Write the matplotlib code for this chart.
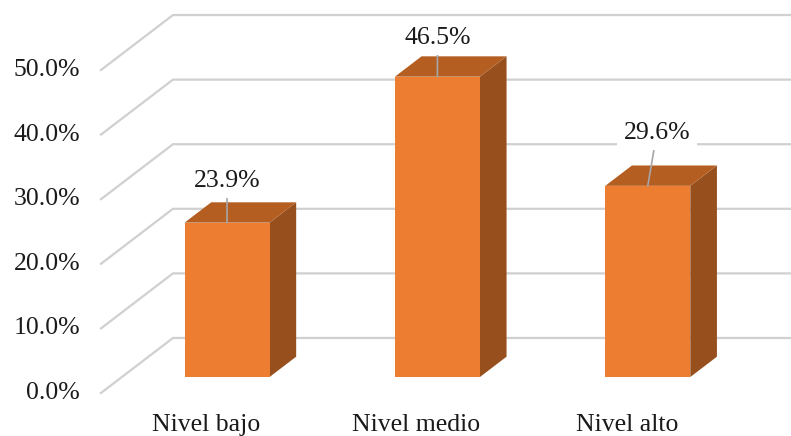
import matplotlib
matplotlib.use("Agg")
import matplotlib.pyplot as plt
import matplotlib.transforms as mtransforms
from matplotlib.patches import Polygon

categories = ["Nivel bajo", "Nivel medio", "Nivel alto"]
values = [23.9, 46.5, 29.6]
ticks = [0, 10, 20, 30, 40, 50]

# label offsets above each bar top (points)
label_offsets = [(0, 30), (0, 28), (6.5, 38)]

front_col = "#ED7D31"
top_col = "#B55E22"
side_col = "#97501D"
grid_col = "#D0D0D0"
text_col = "#1A1A1A"

plt.rcParams["font.family"] = ["Liberation Serif", "DejaVu Serif"]

fig = plt.figure(figsize=(7.91, 4.36), dpi=100)
ax = fig.add_axes([0, 0, 1, 1])
ax.set_xlim(-0.98, 2.78)
ax.set_ylim(-6.66, 60.84)
ax.axis("off")

# depth direction of the floor, in inches (full depth)
depth_x, depth_y = 0.72, 0.55


def shifted(d):
    return ax.transData + mtransforms.ScaledTranslation(depth_x * d, depth_y * d, fig.dpi_scale_trans)


back = shifted(1.0)
inv = ax.transData.inverted()


def to_data(tr, pts):
    return inv.transform(tr.transform(pts))


# wall/floor gridlines: diagonal from the front edge, then along the back wall
for t in ticks:
    bx, by = to_data(back, [(-0.5, t)])[0]
    ax.plot([-0.5, bx, 3.0], [t, by, by], color=grid_col, lw=1.6, zorder=1,
            solid_joinstyle="miter")
    ax.annotate(f"{t:.1f}%", xy=(-0.5, t), xytext=(-15, 0), textcoords="offset points",
                ha="right", va="center", fontsize=18.5, color=text_col)

d_front, d_back = 0.29, 0.66
w = 0.404
fr = shifted(d_front)
bk = shifted(d_back)

for i, (cat, v) in enumerate(zip(categories, values)):
    l, r = i - w / 2, i + w / 2
    f = to_data(fr, [(l, 0), (r, 0), (r, v), (l, v)])
    b = to_data(bk, [(l, 0), (r, 0), (r, v), (l, v)])
    ax.add_patch(Polygon([f[1], b[1], b[2], f[2]], closed=True, fc=side_col, ec="none", zorder=3))
    ax.add_patch(Polygon([f[3], f[2], b[2], b[3]], closed=True, fc=top_col, ec="none", zorder=3))
    ax.add_patch(Polygon(f, closed=True, fc=front_col, ec="none", zorder=4))

    tip = to_data(fr, [(i, v)])[0]
    ax.annotate(f"{v:.1f}%", xy=tip, xytext=label_offsets[i], textcoords="offset points",
                ha="center", va="center", fontsize=18.5, color=text_col, zorder=6,
                bbox=dict(boxstyle="square,pad=0.25", fc="white", ec="none"),
                arrowprops=dict(arrowstyle="-", color="#A6A6A6", lw=1.2,
                                shrinkA=0, shrinkB=0))

    ax.annotate(cat, xy=(i, 0), xytext=(0, -23), textcoords="offset points",
                ha="center", va="center", fontsize=18.5, color=text_col)

fig.savefig("out.png", dpi=100)
